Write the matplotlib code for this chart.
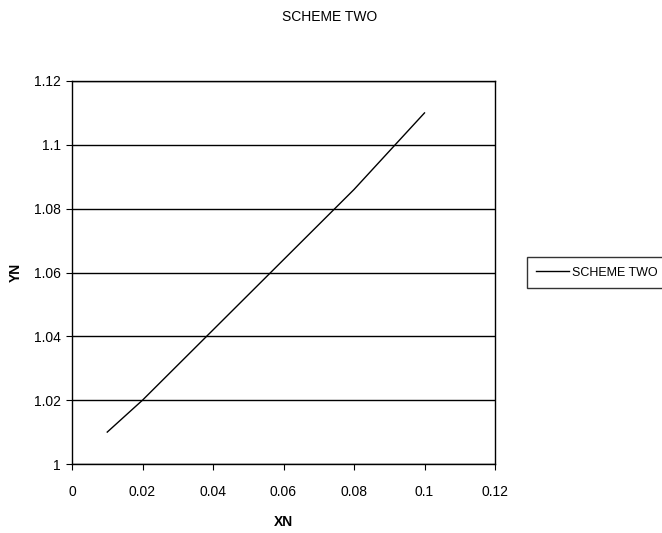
import matplotlib
matplotlib.use("Agg")
import matplotlib.pyplot as plt

xn = [0.01, 0.02, 0.03, 0.04, 0.05, 0.06, 0.07, 0.08, 0.09, 0.10]
yn = [1.010, 1.020, 1.031, 1.042, 1.053, 1.064, 1.075, 1.086, 1.098, 1.110]
xticks = [0, 0.02, 0.04, 0.06, 0.08, 0.1, 0.12]
yticks = [1, 1.02, 1.04, 1.06, 1.08, 1.1, 1.12]

plt.rcParams['font.family'] = ['Liberation Sans', 'DejaVu Sans']

fig = plt.figure(figsize=(6.62, 5.33), dpi=100)
ax = fig.add_axes([72 / 662, 1 - 464 / 533, (495 - 72) / 662, (464 - 81) / 533])

ax.plot(xn, yn, color='black', linewidth=1, label='SCHEME TWO')
ax.set_xlim(0, 0.12)
ax.set_ylim(1, 1.12)
ax.set_xticks(xticks)
ax.set_xticklabels(['0', '0.02', '0.04', '0.06', '0.08', '0.1', '0.12'])
ax.set_yticks(yticks)
ax.set_yticklabels(['1', '1.02', '1.04', '1.06', '1.08', '1.1', '1.12'])
ax.yaxis.grid(True, color='black', linewidth=1)
ax.tick_params(labelsize=10, length=4, direction='out', color='black')
ax.tick_params(axis='x', pad=11)
ax.tick_params(axis='y', pad=4)
for s in ax.spines.values():
    s.set_color('black')
    s.set_linewidth(1)

ax.set_xlabel('XN', fontsize=10, fontweight='bold', labelpad=12)
ax.set_ylabel('YN', fontsize=10, fontweight='bold', labelpad=8)
fig.text(330 / 662, 1 - 17 / 533, 'SCHEME TWO', ha='center', va='center', fontsize=10)

leg = ax.legend(loc='center left', bbox_to_anchor=(527 / 662, 1 - 272.5 / 533),
                bbox_transform=fig.transFigure, fontsize=9, frameon=True,
                fancybox=False, edgecolor='black', handlelength=2.6,
                handletextpad=0.25, borderpad=0.75, borderaxespad=0)
leg.get_frame().set_linewidth(1)

fig.savefig('out.png', dpi=100)
